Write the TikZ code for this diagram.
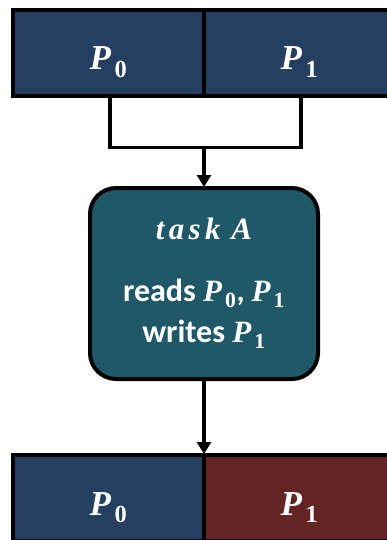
\documentclass[tikz,border=0pt]{standalone}
\usepackage{fontspec}
\setmainfont{Carlito}
\newfontfamily\mathish{Liberation Serif}
\usetikzlibrary{arrows.meta}
\usetikzlibrary{positioning}
\definecolor{partblue}{HTML}{243F60}
\definecolor{partred}{HTML}{632523}
\definecolor{taskteal}{HTML}{215868}
\newcommand{\pt}[1]{{\mathish\bfseries\itshape P\kern0.1em}\textsubscript{\mathish\bfseries #1}}
\newcommand{\lsp}{\kern0.14em}

\tikzset{
  part/.style={draw=black, line width=4pt, outer sep=0pt, minimum width=191pt, minimum height=86pt, text=white, font=\fontsize{35}{40}\selectfont, inner sep=0pt, text height=34pt, text depth=0pt},
  task/.style={draw=black, line width=4pt, outer sep=0pt, fill=taskteal, rounded corners=26pt, minimum width=228pt, minimum height=191pt, text=white, align=center, font=\fontsize{32}{36}\selectfont\bfseries},
  link/.style={line width=3.5pt},
  tip/.style={-{Triangle[length=12pt, width=14pt]}, shorten >=1pt},
}

\begin{document}
\begin{tikzpicture}[x=1pt, y=-1pt]
        \clip (0,0) rectangle (387,540); %
        \useasboundingbox (0,0) rectangle (387,540); %
        \node[part, fill=partblue] (p0) at (108.5,53) {\pt0} ; %
        \node[part, fill=partblue, right=0pt of p0] (p1) {\pt1} ; %
        \node[task] (A) at (204,283.5) {{\fontsize{31}{36}\selectfont\mathish\itshape t\lsp a\lsp s\lsp k\kern0.35em A}\\[26pt] reads {\fontsize{31}{36}\selectfont\pt0, \pt1}\\[5pt] writes {\fontsize{31}{36}\selectfont\pt1}} ; %
        \node[part, fill=partblue] (q0) at (108.5,498) {\pt0} ; %
        \node[part, fill=partred, right=0pt of q0] (q1) {\pt1} ; %
        \coordinate (join) at (204,147.5) ; %
        \draw[link] ([xshift=1.5pt]p0.south) |- (join) -| ([xshift=1.5pt]p1.south) ; %
        \draw[link, tip] (join) -- (A.north) ; %
        \draw[link, tip] (A.south) -- (q0.north east) ; %
      \end{tikzpicture}
\end{document}
